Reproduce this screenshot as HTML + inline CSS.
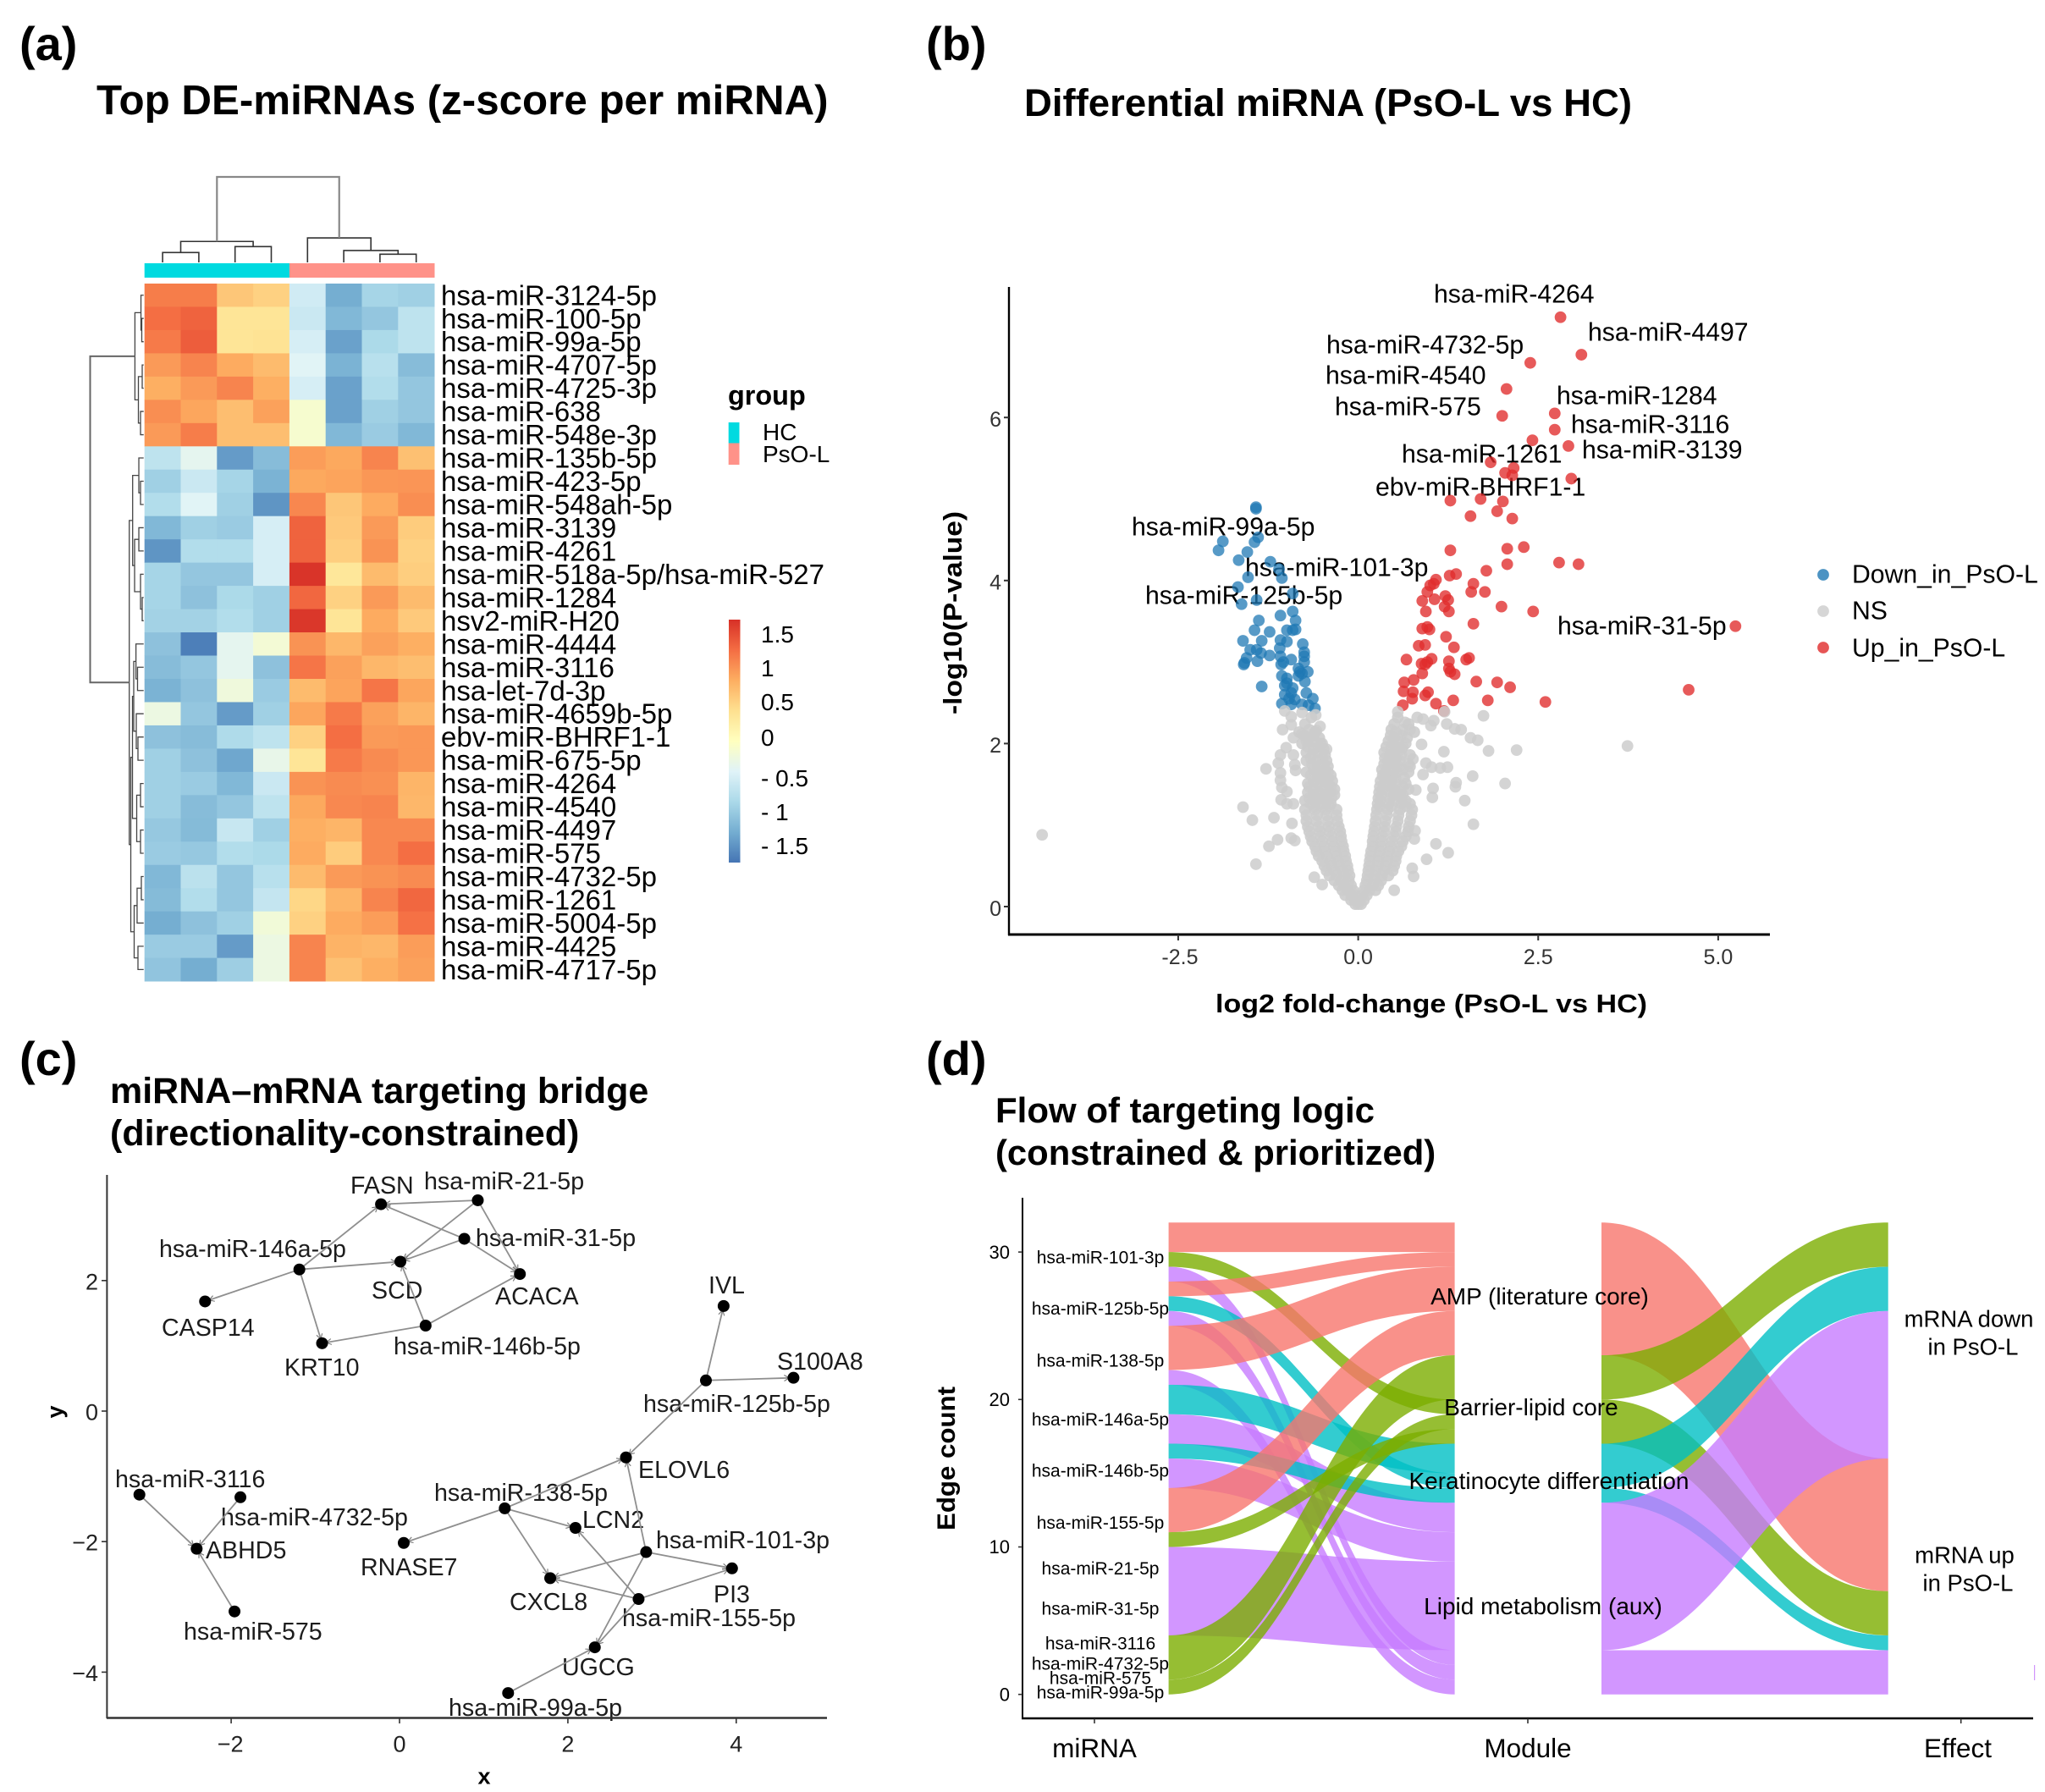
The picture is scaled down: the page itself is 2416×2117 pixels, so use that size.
<!DOCTYPE html>
<html lang="en">
<head>
<meta charset="utf-8">
<title>miRNA multi-panel figure</title>
<style>
html,body{margin:0;padding:0;background:#fff;}
svg{display:block;font-family:"Liberation Sans",sans-serif;}
.panel{font-weight:bold;font-size:56px;}
.title{font-weight:bold;}
.v{font-size:30.2px;fill:#000;}
.n{font-size:28.6px;fill:#1c1c1c;}
.m{font-size:28px;fill:#000;text-anchor:middle;}
.e{font-size:27.5px;fill:#000;text-anchor:middle;}
.axt{font-weight:bold;fill:#000;}
</style>
</head>
<body>
<svg id="fig" xmlns="http://www.w3.org/2000/svg" width="2416" height="2117" viewBox="0 0 2416 2117">
<rect width="2416" height="2117" fill="#fff"/>
<defs>
<linearGradient id="heatGrad" x1="0" y1="1" x2="0" y2="0">
<stop offset="0" stop-color="#4575B4"/><stop offset=".125" stop-color="#74ADD1"/><stop offset=".25" stop-color="#ABD9E9"/><stop offset=".375" stop-color="#E0F3F8"/><stop offset=".5" stop-color="#FFFFBF"/><stop offset=".625" stop-color="#FEE090"/><stop offset=".75" stop-color="#FDAE61"/><stop offset=".875" stop-color="#F46D43"/><stop offset="1" stop-color="#D73027"/>
</linearGradient>
<marker id="arrow" markerWidth="10" markerHeight="10" refX="12" refY="4" orient="auto" markerUnits="userSpaceOnUse" overflow="visible"><path d="M1,0.5 L7,4 L1,7.5" fill="none" stroke="#777" stroke-width="1.1"/></marker>
</defs>

<text class="panel" x="23" y="71">(a)</text>
<text class="panel" x="1094" y="71">(b)</text>
<text class="panel" x="23" y="1270">(c)</text>
<text class="panel" x="1094" y="1270">(d)</text>

<text class="title" x="114" y="135" font-size="49.3">Top DE-miRNAs (z-score per miRNA)</text>
<text class="title" x="1210" y="137" font-size="45.5">Differential miRNA (PsO-L vs HC)</text>
<text class="title" x="130" y="1303" font-size="43">miRNA–mRNA targeting bridge</text>
<text class="title" x="130" y="1353" font-size="43">(directionality-constrained)</text>
<text class="title" x="1176" y="1326" font-size="42">Flow of targeting logic</text>
<text class="title" x="1176" y="1376" font-size="41.8">(constrained &amp; prioritized)</text>

<!-- heatmap legend -->
<text x="860" y="478" font-size="32.4" font-weight="bold">group</text>
<rect x="860.7" y="499" width="12.8" height="24.5" fill="#00DAE0"/>
<rect x="860.7" y="523.5" width="12.8" height="25.5" fill="#FF9289"/>
<text x="901" y="520" font-size="28">HC</text>
<text x="901" y="546" font-size="28">PsO-L</text>
<rect x="861" y="732" width="13.5" height="287" fill="url(#heatGrad)"/>

<!-- volcano static -->
<g>
<text class="v" dy=".35em" x="1694" y="347">hsa-miR-4264</text>
<text class="v" dy=".35em" x="1876" y="392">hsa-miR-4497</text>
<text class="v" dy=".35em" x="1567" y="407">hsa-miR-4732-5p</text>
<text class="v" dy=".35em" x="1566" y="443">hsa-miR-4540</text>
<text class="v" dy=".35em" x="1577" y="480">hsa-miR-575</text>
<text class="v" dy=".35em" x="1839" y="467">hsa-miR-1284</text>
<text class="v" dy=".35em" x="1856" y="501">hsa-miR-3116</text>
<text class="v" dy=".35em" x="1656" y="536">hsa-miR-1261</text>
<text class="v" dy=".35em" x="1869" y="531">hsa-miR-3139</text>
<text class="v" dy=".35em" x="1625" y="575">ebv-miR-BHRF1-1</text>
<text class="v" dy=".35em" x="1337" y="622">hsa-miR-99a-5p</text>
<text class="v" dy=".35em" x="1471" y="670">hsa-miR-101-3p</text>
<text class="v" dy=".35em" x="1353" y="703">hsa-miR-125b-5p</text>
<text class="v" dy=".35em" x="1840" y="739">hsa-miR-31-5p</text>
</g>
<text class="axt" x="1436" y="1196" font-size="31" textLength="510" lengthAdjust="spacingAndGlyphs">log2 fold-change (PsO-L vs HC)</text>
<text class="axt" transform="translate(1136,844) rotate(-90)" font-size="31" textLength="240" lengthAdjust="spacingAndGlyphs">-log10(P-value)</text>
<text class="v" dy=".35em" x="2188" y="678">Down_in_PsO-L</text>
<text class="v" dy=".35em" x="2188" y="721">NS</text>
<text class="v" dy=".35em" x="2188" y="765">Up_in_PsO-L</text>

<!-- network static labels -->
<g>
<text class="n" dy=".35em" x="414" y="1400">FASN</text>
<text class="n" dy=".35em" x="501" y="1395">hsa-miR-21-5p</text>
<text class="n" dy=".35em" x="188" y="1475">hsa-miR-146a-5p</text>
<text class="n" dy=".35em" x="562" y="1462">hsa-miR-31-5p</text>
<text class="n" dy=".35em" x="439" y="1524">SCD</text>
<text class="n" dy=".35em" x="585" y="1531">ACACA</text>
<text class="n" dy=".35em" x="837" y="1518">IVL</text>
<text class="n" dy=".35em" x="191" y="1568">CASP14</text>
<text class="n" dy=".35em" x="465" y="1590">hsa-miR-146b-5p</text>
<text class="n" dy=".35em" x="336" y="1615">KRT10</text>
<text class="n" dy=".35em" x="918" y="1608">S100A8</text>
<text class="n" dy=".35em" x="760" y="1658">hsa-miR-125b-5p</text>
<text class="n" dy=".35em" x="754" y="1736">ELOVL6</text>
<text class="n" dy=".35em" x="136" y="1747">hsa-miR-3116</text>
<text class="n" dy=".35em" x="261" y="1792">hsa-miR-4732-5p</text>
<text class="n" dy=".35em" x="513" y="1763">hsa-miR-138-5p</text>
<text class="n" dy=".35em" x="688" y="1795">LCN2</text>
<text class="n" dy=".35em" x="775" y="1819">hsa-miR-101-3p</text>
<text class="n" dy=".35em" x="243" y="1831">ABHD5</text>
<text class="n" dy=".35em" x="426" y="1851">RNASE7</text>
<text class="n" dy=".35em" x="843" y="1883">PI3</text>
<text class="n" dy=".35em" x="602" y="1892">CXCL8</text>
<text class="n" dy=".35em" x="735" y="1911">hsa-miR-155-5p</text>
<text class="n" dy=".35em" x="217" y="1927">hsa-miR-575</text>
<text class="n" dy=".35em" x="664" y="1969">UGCG</text>
<text class="n" dy=".35em" x="530" y="2017">hsa-miR-99a-5p</text>
</g>
<text class="axt" dy=".35em" x="572" y="2098" font-size="27" text-anchor="middle">x</text>
<text class="axt" transform="translate(74,1668) rotate(-90)" font-size="27" text-anchor="middle">y</text>

<!-- alluvial static -->
<text class="axt" transform="translate(1128,1808) rotate(-90)" font-size="30" textLength="170" lengthAdjust="spacingAndGlyphs">Edge count</text>
<g id="flows"></g>
<rect x="2403" y="1967" width="1.2" height="18" fill="#D195FC"/>
<g>
<text class="m" dy=".35em" x="1819" y="1531">AMP (literature core)</text>
<text class="m" dy=".35em" x="1809" y="1662">Barrier-lipid core</text>
<text class="m" dy=".35em" x="1830" y="1749">Keratinocyte differentiation</text>
<text class="m" dy=".35em" x="1823" y="1897">Lipid metabolism (aux)</text>
<text class="e" dy=".35em" x="2326" y="1558">mRNA down</text>
<text class="e" dy=".35em" x="2331" y="1591">in PsO-L</text>
<text class="e" dy=".35em" x="2321" y="1837">mRNA up</text>
<text class="e" dy=".35em" x="2325" y="1870">in PsO-L</text>
</g>
</svg>

<script>
/* ---------- Panel A data ---------- */
const heatRows = ["hsa-miR-3124-5p","hsa-miR-100-5p","hsa-miR-99a-5p","hsa-miR-4707-5p","hsa-miR-4725-3p","hsa-miR-638","hsa-miR-548e-3p","hsa-miR-135b-5p","hsa-miR-423-5p","hsa-miR-548ah-5p","hsa-miR-3139","hsa-miR-4261","hsa-miR-518a-5p/hsa-miR-527","hsa-miR-1284","hsv2-miR-H20","hsa-miR-4444","hsa-miR-3116","hsa-let-7d-3p","hsa-miR-4659b-5p","ebv-miR-BHRF1-1","hsa-miR-675-5p","hsa-miR-4264","hsa-miR-4540","hsa-miR-4497","hsa-miR-575","hsa-miR-4732-5p","hsa-miR-1261","hsa-miR-5004-5p","hsa-miR-4425","hsa-miR-4717-5p"];
const heatValues = [
[1.2,1.2,.65,.55,-.6,-1.35,-.95,-1.0],
[1.3,1.38,.35,.35,-.65,-1.25,-1.1,-.75],
[1.22,1.42,.35,.38,-.55,-1.45,-.9,-.75],
[1.0,1.15,.88,.75,-.45,-1.3,-.8,-1.2],
[.85,1.0,1.15,.85,-.55,-1.45,-.85,-1.1],
[1.08,.92,.72,.95,-.15,-1.45,-1.0,-1.1],
[1.0,1.2,.72,.72,-.15,-1.25,-1.05,-1.25],
[-.75,-.4,-1.5,-1.2,.98,.9,1.15,.7],
[-1.0,-.65,-.95,-1.3,.9,.93,1.02,1.03],
[-.85,-.45,-1.0,-1.55,1.13,.65,.88,1.08],
[-1.25,-1.0,-1.05,-.55,1.38,.62,1.0,.6],
[-1.55,-.85,-.85,-.55,1.38,.58,1.05,.55],
[-.95,-1.1,-1.1,-.55,1.72,.32,.75,.58],
[-.95,-1.15,-.9,-1.0,1.35,.55,1.0,.75],
[-.98,-.98,-.85,-1.0,1.7,.35,.88,.62],
[-1.15,-1.72,-.4,-.2,1.05,.78,.95,.85],
[-1.2,-1.1,-.4,-1.15,1.25,.95,.78,.72],
[-1.3,-1.15,-.25,-1.05,.75,.93,1.25,.92],
[-.3,-1.1,-1.5,-1.0,.92,1.22,.95,.8],
[-1.15,-1.2,-.88,-.75,.55,1.3,1.0,1.02],
[-1.0,-1.15,-1.4,-.35,.35,1.22,1.1,1.02],
[-1.0,-1.05,-1.25,-.65,1.05,1.1,1.07,.8],
[-1.0,-1.2,-1.1,-.75,.9,1.12,1.15,.78],
[-1.08,-1.22,-.68,-1.0,.85,.8,1.12,1.12],
[-1.05,-1.08,-.85,-.9,.88,.6,1.12,1.3],
[-1.25,-.78,-1.1,-.8,.75,1.0,1.05,1.1],
[-1.22,-.85,-1.1,-.7,.5,.8,1.15,1.35],
[-1.35,-1.15,-1.0,-.22,.55,.88,.98,1.28],
[-1.05,-1.05,-1.5,-.3,1.15,.82,.78,.98],
[-1.12,-1.35,-1.02,-.3,1.15,.7,.85,.95]];
const colGroups = ["HC","HC","HC","HC","PsO-L","PsO-L","PsO-L","PsO-L"];
const colorTickValues = [1.5,1,0.5,0,-0.5,-1,-1.5];
const colorTickLabels = ["1.5","1","0.5","0","- 0.5","- 1","- 1.5"];
const colTree = [10,[2.45,[1.16,0,1],[1.85,2,3]],[2.87,4,[1.39,5,[.96,6,7]]]];
const rowTree = [10,
 [1.76,[.65,0,[.5,1,2]],[1.12,[.42,3,4],[.73,5,6]]],
 [2.8,
  [2.18,[1.04,7,[.73,8,9]],[1.82,[1.04,10,11],[.73,12,[.42,13,14]]]],
  [2.52,[2.21,[1.98,[1.57,15,[1.28,16,17]],[1.51,18,[1.2,19,20]]],[1.43,[.73,21,22],[.73,23,24]]],
        [1.9,[1.36,[.58,25,26],27],[1.2,28,29]]]]];

/* ---------- Panel B data: [log2FC, -log10 P] ---------- */
const upPoints = [[2.81,7.23],[3.10,6.77],[2.39,6.67],[2.06,6.35],[2.00,6.02],[2.73,6.05],[2.73,5.85],[2.42,5.72],[2.92,5.65],[1.84,5.45],[2.16,5.38],[2.04,5.32],[2.14,5.29],[2.96,5.25],[1.28,4.98],[1.70,5.00],[2.01,4.97],[1.93,4.85],[1.56,4.79],[2.14,4.76],[1.28,4.37],[2.07,4.39],[2.30,4.41],[2.07,4.20],[2.79,4.22],[3.06,4.20],[1.78,4.12],[1.27,4.06],[1.36,4.08],[5.24,3.44],[1.60,3.96],[1.57,3.86],[1.76,3.86],[1.08,4.01],[1.05,3.96],[1.0,3.94],[.96,3.86],[.89,3.75],[1.06,3.77],[1.21,3.81],[1.25,3.76],[1.20,3.68],[1.26,3.62],[.94,3.62],[1.99,3.68],[2.43,3.62],[1.60,3.47],[.89,3.41],[.96,3.43],[.99,3.40],[1.22,3.31],[.84,3.20],[.93,3.21],[1.33,3.18],[.67,3.03],[1.02,3.04],[.96,3.00],[.88,2.98],[.93,2.97],[1.26,3.01],[1.50,3.03],[1.54,3.05],[1.26,2.92],[1.28,2.88],[1.34,2.85],[.89,2.86],[.77,2.78],[.64,2.75],[1.64,2.76],[1.93,2.75],[2.11,2.69],[.63,2.64],[.76,2.63],[.97,2.63],[.93,2.59],[.75,2.55],[1.32,2.53],[1.08,2.49],[1.80,2.53],[2.60,2.51],[.62,2.47],[1.19,2.40],[4.59,2.66]];
const downPoints = [[-1.42,4.88],[-1.42,4.90],[-1.88,4.48],[-1.94,4.37],[-1.44,4.47],[-1.39,4.53],[-1.54,4.35],[-1.66,4.25],[-1.22,4.23],[-1.10,4.14],[-1.53,4.04],[-1.06,4.03],[-1.67,3.92],[-1.62,3.71],[-1.41,3.76],[-.91,3.84],[-1.08,3.57],[-.91,3.62],[-.87,3.51],[-1.38,3.51],[-1.44,3.39],[-1.23,3.37],[-.99,3.39],[-.91,3.39],[-.87,3.40],[-1.60,3.26],[-1.34,3.26],[-1.08,3.27],[-.99,3.25],[-.77,3.22],[-1.50,3.15],[-1.41,3.15],[-1.35,3.11],[-1.09,3.17],[-1.23,3.08],[-1.08,3.07],[-.75,3.12],[-.75,3.07],[-1.55,3.05],[-1.40,3.01],[-1.59,2.97],[-1.58,2.99],[-1.07,2.97],[-1.04,3.0],[-.93,3.03],[-.75,3.0],[-.83,2.92],[-.81,2.88],[-.70,2.88],[-1.06,2.83],[-.99,2.8],[-.83,2.83],[-.74,2.76],[-1.34,2.70],[-1.02,2.71],[-.91,2.68],[-.93,2.62],[-.72,2.62],[-1.02,2.6],[-.96,2.55],[-.88,2.54],[-.63,2.55],[-1.06,2.49],[-.93,2.48],[-.78,2.48],[-.69,2.47],[-.6,2.43],[-.99,2.74],[-.78,2.86]];
const nsOutliers = [[-4.39,.88],[3.74,1.97],[2.2,1.92],[1.81,1.91],[1.74,2.34],[1.66,2.04],[1.56,2.07],[1.43,2.17],[1.34,2.18],[1.23,2.24],[1.01,2.22],[1.05,2.28],[.90,2.3],[.82,2.32],[1.2,2.39],[.55,2.39],[.65,2.26],[1.19,1.90],[.88,1.99],[1.24,1.71],[1.14,1.7],[1.02,1.71],[.94,1.76],[1.59,1.6],[2.04,1.51],[1.36,1.52],[1.35,1.47],[1.04,1.45],[1.03,1.34],[1.48,1.3],[1.6,1.01],[1.08,.77],[1.25,.66],[.95,.58],[.75,.47],[.77,.37],[.5,.2],[.78,.83],[.79,.93],[.8,1.43],[.9,1.62],[.76,1.81],[-1.6,1.22],[-1.47,1.06],[-1.17,1.09],[-.92,1.02],[-1.24,.74],[-1.12,.82],[-.93,.84],[-.88,.81],[-1.42,.52],[-.61,.36],[-.5,.27],[-1.28,1.69],[-1.11,1.76],[-1.08,1.86],[-1.0,1.95],[-1.08,1.64],[-1.08,1.55],[-1.06,1.46],[-.99,1.41],[-1.07,1.31],[-.99,1.26],[-.9,1.26],[-1.05,2.17],[-.93,2.23],[-.93,2.33],[-1.02,2.4],[-.78,2.38],[-.59,2.35],[-.53,2.21],[-.58,2.16],[-.9,2.07],[-.78,2.12],[-.69,2.02],[-.5,2.0],[-.44,1.93],[-.9,1.86],[-.88,1.74],[-.87,1.67]];
const nsCoreRows = [
[.03,[-.04,0,.04]],[.08,[-.1,-.05,.02,.08]],[.14,[-.18,-.1,-.04,.05,.12]],[.2,[-.22,-.14,-.07,.08,.16,.24]],
[.26,[-.27,-.19,-.1,.1,.2,.28]],[.32,[-.33,-.24,-.13,.12,.22,.32]],[.38,[-.4,-.3,-.19,-.12,.13,.22,.33,.42]],
[.44,[-.44,-.33,-.22,-.14,.14,.24,.36,.48]],[.5,[-.47,-.37,-.26,-.15,.15,.27,.38,.5]],[.56,[-.5,-.39,-.28,-.17,.16,.28,.4,.52]],
[.62,[-.55,-.43,-.3,-.18,.17,.29,.41,.53]],[.68,[-.58,-.46,-.32,-.2,.18,.3,.43,.56]],[.74,[-.6,-.47,-.34,-.21,.2,.32,.45,.6]],
[.8,[-.64,-.5,-.36,-.23,.2,.33,.47,.62]],[.86,[-.66,-.52,-.37,-.24,.21,.34,.5,.66]],[.92,[-.68,-.53,-.4,-.25,.22,.36,.52,.69]],
[.98,[-.7,-.55,-.41,-.27,.23,.37,.53,.7]],[1.05,[-.72,-.58,-.42,-.29,.24,.38,.55,.72]],[1.12,[-.72,-.57,-.44,-.3,.25,.4,.56,.74]],
[1.19,[-.74,-.6,-.45,-.3,.26,.41,.58,.75]],[1.26,[-.66,-.52,-.38,.27,.42,.6,.72]],[1.33,[-.68,-.52,-.37,.28,.44,.6]],
[1.4,[-.7,-.55,-.4,.29,.44,.58]],[1.47,[-.68,-.52,-.38,.3,.45,.62]],[1.54,[-.62,-.47,-.36,.31,.46]],[1.61,[-.66,-.5,-.38,.34,.48]],
[1.68,[-.62,-.46,.33,.48,.62]],[1.75,[-.64,-.48,.36,.5,.7]],[1.82,[-.66,-.5,.37,.52]],[1.89,[-.72,-.56,.36,.5]],
[1.96,[-.7,-.55,.39,.54,.62]],[2.03,[-.72,-.6,.42,.56]],[2.1,[-.75,-.62,.45,.6]],[2.17,[-.68,.46,.62,.72]],[2.24,[-.74,.5,.7]],[2.32,[-.65,.55]],
[1.23,[-.62,-.5,-.4,.3,.46,.66]],[1.3,[-.74,-.6,-.44,.31,.5,.66]],[1.37,[-.62,-.46,-.33,.32,.5,.62]],[1.44,[-.62,-.46,-.33,.34,.5,.7]],
[1.51,[-.7,-.56,-.42,.36,.52,.66]],[1.58,[-.56,-.42,.38,.52,.64]],[1.65,[-.72,-.56,-.42,.38,.54,.7]],[1.72,[-.56,-.42,.42,.56,.72]],
[1.79,[-.72,-.58,-.44,.42,.58]],[1.86,[-.64,-.46,.44,.6,.72]],[1.93,[-.62,-.48,.46,.6]],[2.0,[-.78,-.52,.48,.66]],
[2.07,[-.68,-.54,.5,.68]],[2.14,[-.82,-.6,.52,.78]]];
const volcanoXTicks = [-2.5,0,2.5,5];
const volcanoXLabels = ["-2.5","0.0","2.5","5.0"];
const volcanoYTicks = [0,2,4,6];
const volcanoLegendColors = ["#1F78B4","#CCCCCC","#E02B2B"];

/* ---------- Panel C data: layout coordinates ---------- */
const networkNodes = {FASN:[-.22,3.17],m21:[.93,3.23],m31:[.77,2.64],SCD:[.01,2.29],m146a:[-1.19,2.17],ACACA:[1.43,2.10],CASP14:[-2.31,1.68],m146b:[.31,1.31],KRT10:[-.92,1.04],IVL:[3.85,1.61],m125b:[3.64,.47],S100A8:[4.68,.51],ELOVL6:[2.69,-.71],m3116:[-3.09,-1.28],m4732:[-1.89,-1.32],m138:[1.25,-1.49],LCN2:[2.09,-1.79],RNASE7:[.05,-2.02],ABHD5:[-2.41,-2.11],m101:[2.93,-2.16],PI3:[3.95,-2.41],CXCL8:[1.79,-2.56],m155:[2.84,-2.88],m575:[-1.96,-3.07],UGCG:[2.32,-3.62],m99a:[1.29,-4.32]};
const networkEdges = [["m21","FASN"],["m21","SCD"],["m21","ACACA"],["m31","FASN"],["m31","SCD"],["m31","ACACA"],["m146a","FASN"],["m146a","SCD"],["m146a","CASP14"],["m146a","KRT10"],["m146b","SCD"],["m146b","ACACA"],["m146b","KRT10"],["m125b","IVL"],["m125b","S100A8"],["m125b","ELOVL6"],["m3116","ABHD5"],["m4732","ABHD5"],["m575","ABHD5"],["m138","ELOVL6"],["m138","LCN2"],["m138","RNASE7"],["m138","CXCL8"],["m101","ELOVL6"],["m101","CXCL8"],["m101","PI3"],["m101","UGCG"],["m155","LCN2"],["m155","CXCL8"],["m155","PI3"],["m155","UGCG"],["m99a","UGCG"]];
const networkXTicks = [-2,0,2,4];
const networkYTicks = [2,0,-2,-4];

/* ---------- Panel D data: edge counts ---------- */
const moduleColors = {AMP:"#F8766D",Barrier:"#7CAE00",Kerat:"#00BFC4",Lipid:"#C77CFF"};
const flowsMirnaToModule = [["AMP",32,30,32,30],["Barrier",30,29,20,19],["Lipid",29,28,3,2],["AMP",28,27,30,29],["Kerat",27,26,15,14],["Lipid",26,25,2,1],["AMP",25,22,29,26],["Lipid",22,21,1,0],["Kerat",21,19,17,15],["Lipid",19,17,13,11],["Kerat",17,16,14,13],["Lipid",16,14,11,9],["AMP",14,11,26,23],["Barrier",11,10,18,17],["Lipid",10,4,9,3],["Barrier",4,1,23,20],["Barrier",1,0,19,18]];
const flowsModuleToEffect = [["AMP",32,23,16,7],["Barrier",23,20,32,29],["Barrier",20,17,7,4],["Kerat",17,14,29,26],["Kerat",14,13,4,3],["Lipid",13,3,26,16],["Lipid",3,0,3,0]];
const alluvialYTicks = [0,10,20,30];
const alluvialAxisNames = ["miRNA","Module","Effect"];
const mirnaLabels = ["hsa-miR-101-3p","hsa-miR-125b-5p","hsa-miR-138-5p","hsa-miR-146a-5p","hsa-miR-146b-5p","hsa-miR-155-5p","hsa-miR-21-5p","hsa-miR-31-5p","hsa-miR-3116","hsa-miR-4732-5p","hsa-miR-575","hsa-miR-99a-5p"];
const mirnaLabelCounts = [29.66,26.18,22.66,18.66,15.2,11.65,8.55,5.84,3.48,2.1,1.13,.15];

/* ---------- helpers ---------- */
const svg = document.getElementById("fig");
function mk(tag, attrs, name, parent){
  const el = document.createElementNS("http://www.w3.org/2000/svg", tag);
  for (const k in attrs) el.setAttribute(k, attrs[k]);
  
  
  (parent || svg).appendChild(el);
  return el;
}
function label(txt, x, y, size, anchor, name, fill, parent){
  const el = mk("text", {x:x, y:y+size*0.35, "font-size":size, "text-anchor":anchor, fill:fill||"#000"}, name, parent);
  el.textContent = txt;
  return el;
}
function line(x1,y1,x2,y2,stroke,w,name,parent){
  return mk("line",{x1:x1,y1:y1,x2:x2,y2:y2,stroke:stroke,"stroke-width":w},name,parent);
}
function slug(s){ return s.toLowerCase().replace(/[^a-z0-9]+/g,"-"); }

/* ---------- Panel A ---------- */
const heatLeft=170.7, heatTop=335, colW=42.8, rowH=27.47;
const heatStops=["#4575B4","#74ADD1","#ABD9E9","#E0F3F8","#FFFFBF","#FEE090","#FDAE61","#F46D43","#D73027"];
const zMin=-1.8, zMax=1.75;
function hexRgb(h){return [parseInt(h.slice(1,3),16),parseInt(h.slice(3,5),16),parseInt(h.slice(5,7),16)];}
function zColor(z){
  const t=Math.max(0,Math.min(.9999,(z-zMin)/(zMax-zMin)))*(heatStops.length-1);
  const i=Math.floor(t),f=t-i,a=hexRgb(heatStops[i]),b=hexRgb(heatStops[i+1]);
  return "rgb("+a.map((v,k)=>Math.round(v+(b[k]-v)*f)).join(",")+")";
}
const gHeat = mk("g",{},"heatmap");
heatValues.forEach((row,r)=>{
  row.forEach((z,c)=>{
    mk("rect",{x:heatLeft+c*colW,y:heatTop+r*rowH,width:colW+.4,height:rowH+.4,fill:zColor(z)},"heat-cell-"+r+"-"+c,gHeat);
  });
  label(heatRows[r],521,heatTop+(r+.5)*rowH,33,"start","row-label-"+slug(heatRows[r]),"#000",gHeat);
});
const groupColor={"HC":"#00DAE0","PsO-L":"#FF9289"};
colGroups.forEach((g,c)=>{
  mk("rect",{x:heatLeft+c*colW,y:311,width:colW+.4,height:17,fill:groupColor[g]},"annotation-cell-"+c,gHeat);
});
function drawColTree(n,parent){
  if(typeof n==="number") return {x:heatLeft+(n+.5)*colW,y:310};
  const a=drawColTree(n[1],parent), b=drawColTree(n[2],parent);
  const y=310-n[0]*10.1, col=n[0]>5?"#888":"#333", w=n[0]>5?2.2:1.6;
  mk("path",{d:"M"+a.x+","+a.y+"V"+y+"H"+b.x+"V"+b.y,fill:"none",stroke:col,"stroke-width":w},"column-dendrogram-branch",parent);
  return {x:(a.x+b.x)/2,y:y};
}
function drawRowTree(n,parent){
  if(typeof n==="number") return {x:heatLeft-1,y:heatTop+(n+.5)*rowH};
  const a=drawRowTree(n[1],parent), b=drawRowTree(n[2],parent);
  const x=heatLeft-n[0]*6.42, col=n[0]>5?"#666":"#444", w=n[0]>5?2:1.3;
  mk("path",{d:"M"+a.x+","+a.y+"H"+x+"V"+b.y+"H"+b.x,fill:"none",stroke:col,"stroke-width":w},"row-dendrogram-branch",parent);
  return {x:x,y:(a.y+b.y)/2};
}
drawColTree(colTree,mk("g",{},"column-dendrogram"));
drawRowTree(rowTree,mk("g",{},"row-dendrogram"));
const colorY=v=>871-v*80;
colorTickValues.forEach((v,i)=>{
  label(colorTickLabels[i],899,colorY(v)+(v<0?8:(v>0?-2:0)),28,"start","color-scale-tick-"+i);
});

/* ---------- Panel B ---------- */
const vx=v=>1604.6+85.06*v, vy=v=>1071-96.3*v;
const gV = mk("g",{},"volcano-plot");
function dots(arr,color,op,name){
  arr.forEach(p=>{
    mk("circle",{cx:vx(p[0]),cy:vy(p[1]),r:6.9,fill:color,"fill-opacity":op},name,gV);
  });
}
dots(downPoints,"#1F78B4",.75,"point-down");
dots(upPoints,"#E02B2B",.78,"point-up");
dots(nsOutliers,"#CCCCCC",.85,"point-ns");
nsCoreRows.forEach(r=>{
  dots(r[1].map(x=>[x,r[0]]),"#CCCCCC",.9,"point-ns");
});
line(1192,339,1192,1105,"#000",2.4,"volcano-y-axis");
line(1191,1104,2091,1104,"#000",3,"volcano-x-axis");
volcanoXTicks.forEach((v,i)=>{
  line(vx(v),1104,vx(v),1111,"#333",2,"volcano-x-tick");
  label(volcanoXLabels[i],vx(v)+(v<0?2:0),1130,25,"middle","volcano-x-label","#333");
});
volcanoYTicks.forEach(v=>{
  line(1186,vy(v),1192,vy(v),"#333",2,"volcano-y-tick");
  label(String(v),1183,vy(v)+2,25,"end","volcano-y-label","#333");
});
volcanoLegendColors.forEach((c,i)=>{
  mk("circle",{cx:2154,cy:679+i*43,r:6.9,fill:c,"fill-opacity":.8},"volcano-legend-dot-"+i);
});

/* ---------- Panel C ---------- */
const nx=v=>472+99.45*v, ny=v=>1667-77.1*v;
const gN = mk("g",{},"network-plot");
networkEdges.forEach(e=>{
  const a=networkNodes[e[0]], b=networkNodes[e[1]];
  mk("line",{x1:nx(a[0]),y1:ny(a[1]),x2:nx(b[0]),y2:ny(b[1]),stroke:"#8f8f8f","stroke-width":1.8,"marker-end":"url(#arrow)"},"edge-"+slug(e[0])+"-"+slug(e[1]),gN);
});
Object.keys(networkNodes).forEach(k=>{
  const p=networkNodes[k];
  mk("circle",{cx:nx(p[0]),cy:ny(p[1]),r:7,fill:"#000"},"node-"+slug(k),gN);
});
line(126.4,1388,126.4,2030,"#333",2,"network-y-axis");
line(126,2029.5,977,2029.5,"#333",2.6,"network-x-axis");
networkXTicks.forEach(v=>{
  line(nx(v),2030,nx(v),2036,"#333",1.6,"network-x-tick");
  label(String(v).replace("-","−"),nx(v)-(v<0?1:0),2060,27,"middle","network-x-label","#222");
});
networkYTicks.forEach(v=>{
  line(120,ny(v),126,ny(v),"#333",1.6,"network-y-tick");
  label(String(v).replace("-","−"),116,ny(v)+1,27,"end","network-y-label","#222");
});

/* ---------- Panel D ---------- */
const ay=c=>2001.7-17.42*c;
const gF=document.getElementById("flows");
function band(f,x0,x1,name){
  const dx=x1-x0,k=.45;
  const t0=ay(f[1]),b0=ay(f[2]),t1=ay(f[3]),b1=ay(f[4]);
  const d="M"+x0+","+t0+"C"+(x0+dx*k)+","+t0+" "+(x1-dx*k)+","+t1+" "+x1+","+t1+
    "L"+x1+","+b1+"C"+(x1-dx*k)+","+b1+" "+(x0+dx*k)+","+b0+" "+x0+","+b0+"Z";
  mk("path",{d:d,fill:moduleColors[f[0]],"fill-opacity":.8},name,gF);
}
flowsMirnaToModule.forEach((f,i)=>{ band(f,1380.6,1718.6,"flow-mirna-module-"+i); });
flowsModuleToEffect.forEach((f,i)=>{ band(f,1892,2230.7,"flow-module-effect-"+i); });
line(1208,1415,1208,2031,"#000",2,"alluvial-y-axis");
line(1207,2030,2402,2030,"#000",2.4,"alluvial-x-axis");
alluvialYTicks.forEach(v=>{
  line(1203,ay(v),1208,ay(v),"#333",1.6,"alluvial-y-tick");
  label(String(v),1193,ay(v),22,"end","alluvial-y-label");
});
const axisTickX={miRNA:1293,Module:1805,Effect:2316.7};
alluvialAxisNames.forEach(n=>{
  line(axisTickX[n],2030,axisTickX[n],2036,"#333",1.6,"alluvial-x-tick-"+slug(n));
  label(n,n==="Effect"?2313:axisTickX[n],2065,31.5,"middle","alluvial-x-label-"+slug(n));
});
mirnaLabels.forEach((t,i)=>{
  label(t,1300,ay(mirnaLabelCounts[i]),21,"middle","mirna-stratum-label-"+slug(t));
});
</script>
</body>
</html>
